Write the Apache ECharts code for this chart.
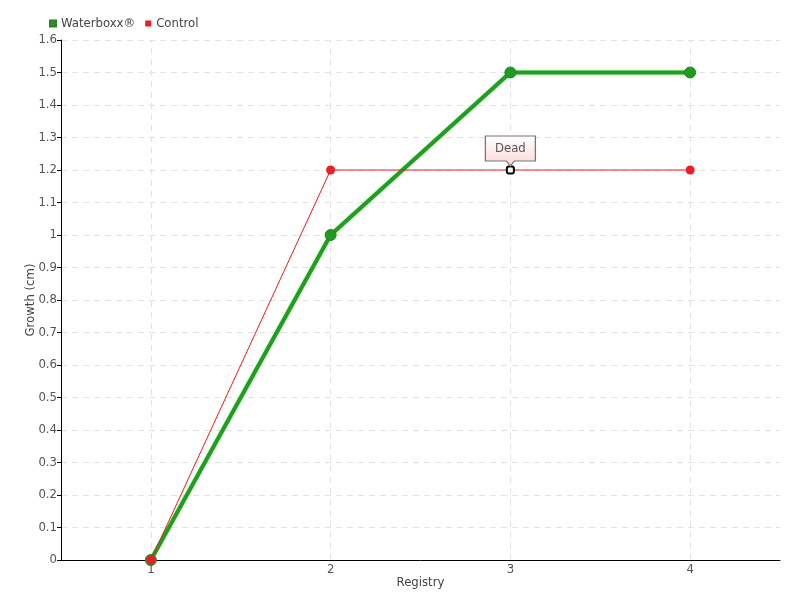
<!DOCTYPE html>
<html><head><meta charset="utf-8">
<script src="https://cdn.jsdelivr.net/npm/echarts@6/dist/echarts.min.js"></script>
<style>html,body{margin:0;padding:0;background:#fff}#c{width:800px;height:600px}</style>
</head><body><div id="c"></div>
<script>
var categories = ['1', '2', '3', '4'];
var waterboxx = [0, 1.0, 1.5, 1.5];
var control = [0, 1.2, 1.2, 1.2];
var deadIndex = 2;
var deadLabel = 'Dead';

var FONT = '"DejaVu Sans Condensed", "Liberation Sans Narrow", "Roboto Condensed", sans-serif';
var chart = echarts.init(document.getElementById('c'));
var controlData = control.map(function (v, i) {
  if (i === deadIndex) {
    return { value: v, symbol: 'roundRect', symbolSize: 7, itemStyle: { color: '#fff', borderColor: '#000', borderWidth: 2 } };
  }
  return v;
});
chart.setOption({
  animation: false,
  textStyle: { fontFamily: FONT },
  legend: {
    left: 44, top: 12, itemWidth: 6, itemHeight: 6, itemGap: 10, icon: 'rect',
    textStyle: { fontFamily: FONT, fontSize: 13, color: '#444' },
    data: ['Waterboxx®', 'Control']
  },
  grid: { left: 61, right: 20, top: 40, bottom: 40 },
  xAxis: {
    type: 'category', data: categories, boundaryGap: true,
    name: 'Registry', nameLocation: 'middle', nameGap: 16, nameMoveOverlap: false,
    nameTextStyle: { fontFamily: FONT, fontSize: 13, color: '#444' },
    axisLine: { lineStyle: { color: '#000' } },
    axisTick: { alignWithLabel: true, length: 5, lineStyle: { color: '#000' } },
    axisLabel: { fontFamily: FONT, fontSize: 13, color: '#555', margin: 3 },
    splitLine: { show: false }
  },
  yAxis: {
    type: 'value', min: 0, max: 1.6, interval: 0.1,
    name: 'Growth (cm)', nameLocation: 'middle', nameGap: 24, nameMoveOverlap: false,
    nameTextStyle: { fontFamily: FONT, fontSize: 13, color: '#444' },
    axisLine: { show: true, lineStyle: { color: '#000' } },
    axisTick: { show: true, length: 4, lineStyle: { color: '#000' } },
    axisLabel: { fontFamily: FONT, fontSize: 13, color: '#555', margin: 4 },
    splitLine: { lineStyle: { color: '#e3e3e3', type: [6, 5] } }
  },
  series: [
    {
      name: 'Waterboxx®', type: 'line', data: waterboxx,
      color: '#22a322',
      lineStyle: { width: 4, color: '#1f9f1f', shadowColor: 'rgba(90,200,60,0.6)', shadowBlur: 2 },
      symbol: 'circle', symbolSize: 11,
      itemStyle: { color: '#1f9b1f', borderColor: '#2c7f2c', borderWidth: 1 },
      z: 2,
      markLine: {
        silent: true, symbol: 'none', label: { show: false },
        lineStyle: { color: '#e3e3e3', type: [6, 5], width: 1 },
        data: categories.map(function (c) { return { xAxis: c }; }),
        z: 0
      }
    },
    {
      name: 'Control', type: 'line', data: controlData,
      color: '#ee1c25',
      lineStyle: { width: 1, color: '#ee1c25' },
      symbol: 'circle', symbolSize: 9,
      itemStyle: { color: '#ee1c25' },
      z: 3,
      markPoint: {
        data: [{ coord: [deadIndex, control[deadIndex]], value: deadLabel }],
        symbol: 'path://M0,0 L50,0 L50,25 L29,25 L25,30 L21,25 L0,25 Z',
        symbolSize: [50, 30], symbolOffset: [0, -19], symbolKeepAspect: false,
        itemStyle: {
          color: new echarts.graphic.LinearGradient(0, 0, 0, 1, [
            { offset: 0, color: '#ffffff' }, { offset: 1, color: '#fdd8d8' }
          ]),
          borderColor: '#777', borderWidth: 1
        },
        label: { show: true, formatter: deadLabel, color: '#555', fontFamily: FONT, fontSize: 13, offset: [0, -2] }
      }
    }
  ]
});
</script></body></html>
